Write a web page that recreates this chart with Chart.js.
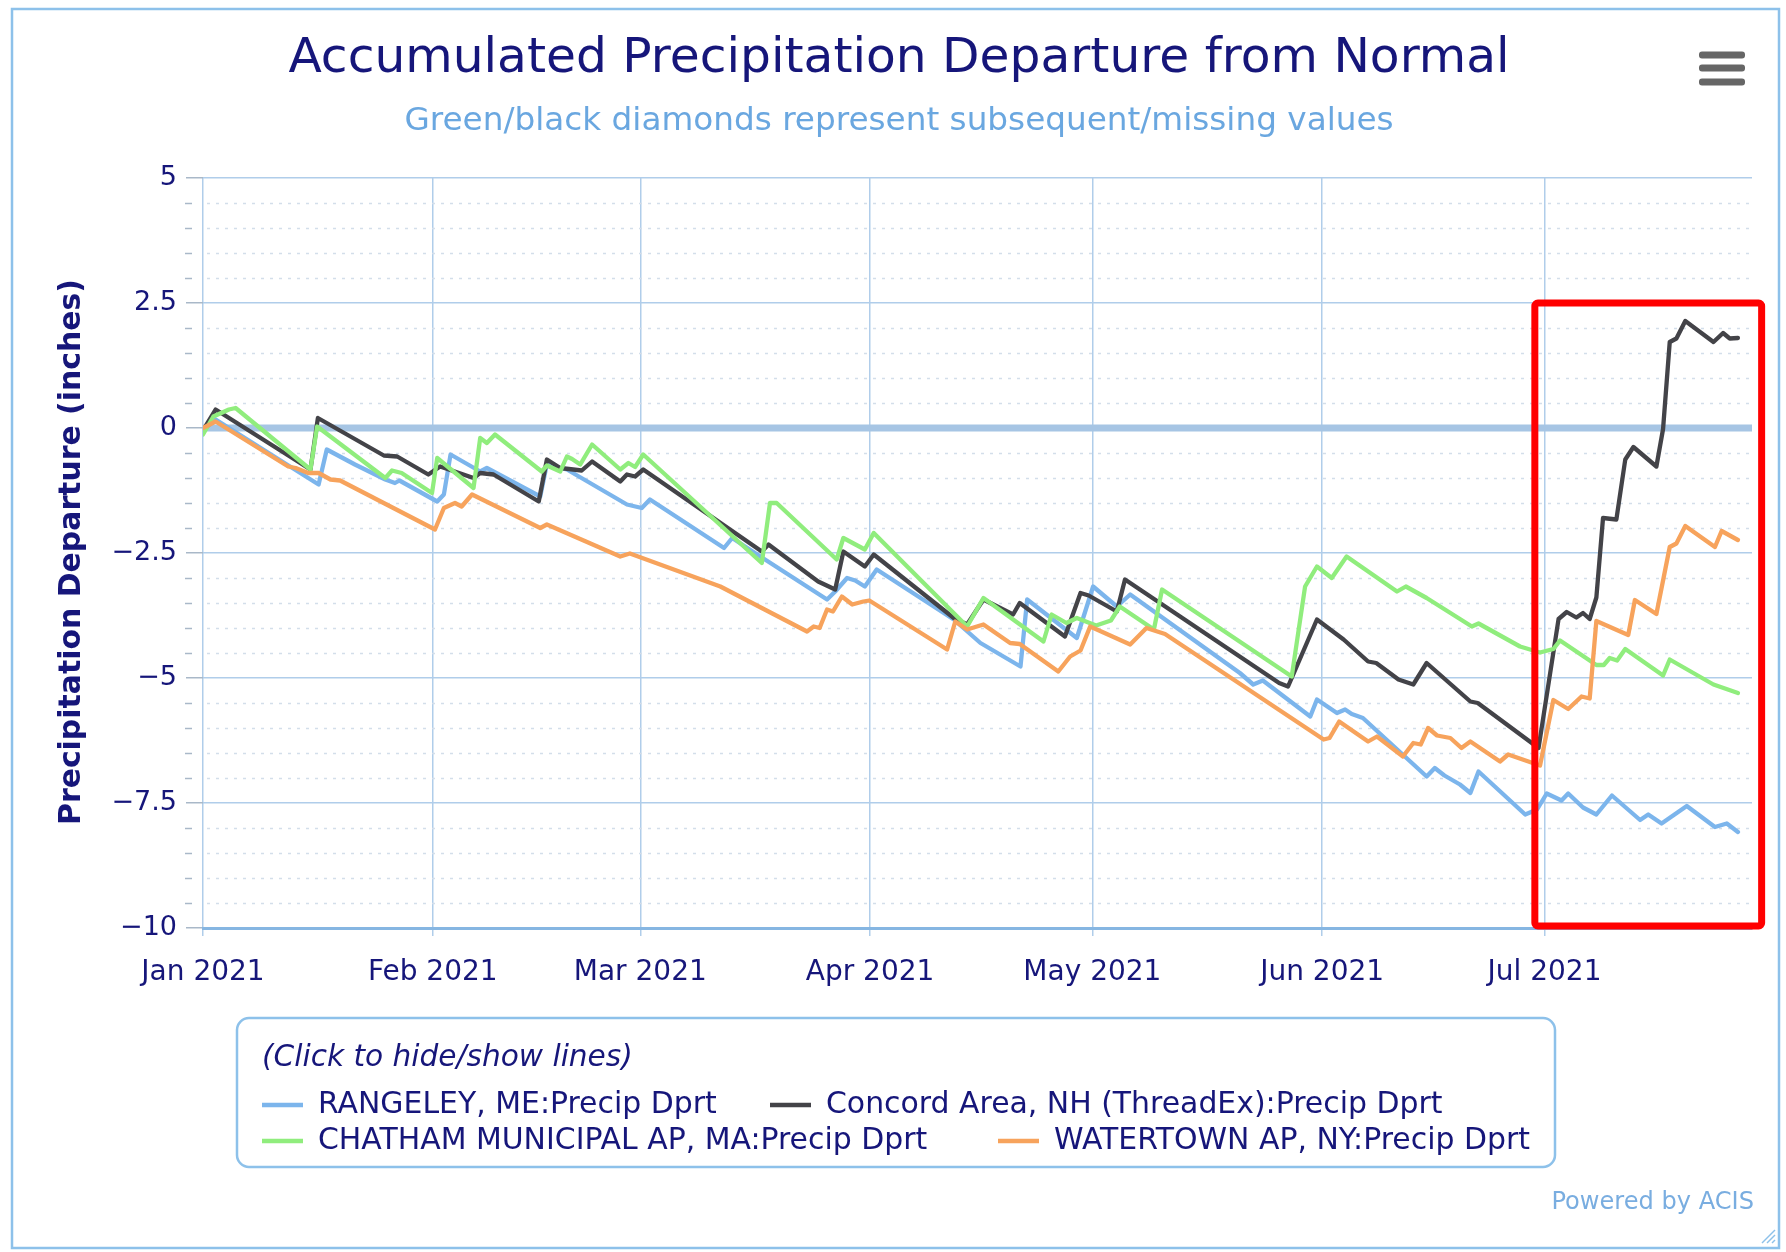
<!DOCTYPE html>
<html>
<head>
<meta charset="utf-8">
<title>Accumulated Precipitation Departure from Normal</title>
<script src="https://cdn.jsdelivr.net/npm/chart.js@4.4.1/dist/chart.umd.min.js"></script>
<style>
  html, body { margin: 0; padding: 0; background: #ffffff; }
  canvas { display: block; }
</style>
</head>
<body>
<canvas id="myChart" width="1786" height="1252"></canvas>
<script>
// x values are days since Jan 1 2021
const monthDays = [0, 31, 59, 90, 120, 151, 181];
const monthLabels = ['Jan 2021', 'Feb 2021', 'Mar 2021', 'Apr 2021', 'May 2021', 'Jun 2021', 'Jul 2021'];
const lastDay = 209;

const seriesLabels = [
    'RANGELEY, ME:Precip Dprt',
    'Concord Area, NH (ThreadEx):Precip Dprt',
    'CHATHAM MUNICIPAL AP, MA:Precip Dprt',
    'WATERTOWN AP, NY:Precip Dprt'
];
const seriesColors = ['#7cb5ec', '#434348', '#90ed7d', '#f7a35c'];

const rangeleyDays = [0, 1.7, 14.2, 15.6, 16.7, 20.5, 24.6, 25.9, 26.5, 31.6, 32.5, 33.4, 37.4, 38.3, 45.5, 46.4, 48.2, 49.1, 57.2, 59.2,
    60.3, 70.3, 71.4, 75.2, 84.2, 85.3, 86.9, 88, 89.3, 90.9, 101.3, 104.9, 110.3, 111.2, 117.9, 120.1, 123.3, 125.1, 139.9, 141.7,
    143, 149.4, 150.3, 153, 154.1, 155, 156.5, 165.1, 166.2, 167.5, 169.6, 171, 172.1, 178.4, 180, 181.3, 183.3, 184.2, 186.2, 188,
    190.1, 193.9, 195, 196.8, 200.2, 204, 205.6, 207.1];
const rangeleyDprt = [-0.05, 0.17, -1.0, -1.13, -0.43, -0.73, -1.03, -1.1, -1.05, -1.47, -1.33, -0.53, -0.87, -0.8, -1.37, -0.72, -0.8, -0.83, -1.53, -1.6,
    -1.43, -2.4, -2.2, -2.57, -3.43, -3.27, -3.0, -3.05, -3.17, -2.83, -3.83, -4.3, -4.77, -3.43, -4.2, -3.17, -3.57, -3.33, -4.9, -5.13,
    -5.05, -5.77, -5.43, -5.7, -5.63, -5.72, -5.8, -6.97, -6.8, -6.95, -7.13, -7.3, -6.87, -7.73, -7.63, -7.31, -7.45, -7.31, -7.59, -7.73,
    -7.35, -7.84, -7.73, -7.91, -7.56, -7.98, -7.91, -8.08];

const concordDays = [0, 1.7, 14.5, 15.5, 24.4, 26.2, 30.4, 32, 36.5, 37.4, 39.2, 45.3, 46.4, 48.2, 51.1, 52.5, 56.3, 57.2, 58.3, 59.4,
    75.4, 76.3, 83, 85.3, 86.4, 89.3, 90.5, 101.3, 103.1, 105.3, 109.3, 110.2, 116.3, 118.4, 119.5, 123.3, 124.4, 145.2, 146.4, 150.3,
    153.9, 157.2, 158.3, 161.3, 163.3, 165.1, 171, 172, 180.2, 182.9, 184, 185.3, 186.2, 187.1, 188, 188.9, 190.7, 191.9, 193, 196.1,
    197, 197.9, 198.8, 200, 203.8, 205.1, 206, 207.1];
const concordDprt = [-0.05, 0.37, -0.83, 0.2, -0.55, -0.57, -0.93, -0.77, -1.0, -0.9, -0.93, -1.47, -0.63, -0.8, -0.85, -0.67, -1.07, -0.93, -0.97, -0.83,
    -2.47, -2.33, -3.07, -3.23, -2.47, -2.77, -2.53, -3.8, -3.93, -3.43, -3.73, -3.5, -4.17, -3.3, -3.35, -3.67, -3.03, -5.1, -5.17, -3.83,
    -4.23, -4.67, -4.7, -5.03, -5.13, -4.7, -5.47, -5.5, -6.4, -3.82, -3.68, -3.79, -3.7, -3.82, -3.39, -1.8, -1.83, -0.63, -0.38, -0.77,
    -0.02, 1.72, 1.79, 2.14, 1.72, 1.9, 1.79, 1.8];

const chathamDays = [0, 1.4, 3.5, 4.4, 14.5, 15.4, 24.6, 25.5, 26.8, 30.9, 31.6, 36.5, 37.4, 38.3, 39.4, 45.7, 46.4, 48.2, 49.1, 49.8,
    50.9, 52.5, 56.3, 57.4, 58.3, 59.4, 75.4, 76.5, 77.4, 85.5, 86.4, 89.3, 90.5, 103.1, 105.3, 113.4, 114.5, 116.5, 117.9, 120.5,
    122.5, 123.7, 128.3, 129.4, 146.9, 148.7, 150.3, 152.3, 154.3, 161.1, 162.3, 165.1, 171.2, 172.1, 177.7, 180.4, 182.2, 183.1, 188, 189,
    189.8, 190.8, 191.9, 197, 197.9, 203.8, 207.1];
const chathamDprt = [-0.13, 0.23, 0.37, 0.4, -0.83, 0.03, -1.0, -0.85, -0.9, -1.3, -0.6, -1.2, -0.2, -0.3, -0.13, -0.87, -0.75, -0.87, -0.57, -0.62,
    -0.73, -0.33, -0.83, -0.7, -0.78, -0.53, -2.7, -1.5, -1.5, -2.63, -2.2, -2.43, -2.1, -3.97, -3.4, -4.27, -3.73, -3.9, -3.8, -3.95,
    -3.85, -3.57, -4.03, -3.23, -4.97, -3.17, -2.77, -3.0, -2.57, -3.27, -3.17, -3.4, -3.97, -3.91, -4.37, -4.49, -4.42, -4.25, -4.74, -4.74,
    -4.6, -4.65, -4.42, -4.95, -4.63, -5.13, -5.3];

const watertownDays = [0, 1.7, 11.5, 12.5, 14.2, 15.6, 17.2, 18.5, 31.3, 32.5, 34, 34.9, 36.3, 45.5, 46.4, 56.3, 57.6, 69.8, 81.5, 82.4,
    83.2, 84.2, 85, 86.2, 87.6, 89.1, 89.9, 100.4, 101.5, 103.1, 105.3, 108.9, 110.2, 115.4, 117, 118.4, 119.7, 125.1, 127.3, 129.8,
    151.2, 152, 153.3, 157.2, 158.4, 161.9, 163.3, 164.3, 165.3, 166.5, 168.3, 169.8, 171, 175, 176.1, 180.4, 182.2, 184.2, 186, 187.1,
    188, 192.3, 193.2, 196.1, 197.9, 198.8, 200, 204, 204.9, 207.1];
const watertownDprt = [0, 0.13, -0.77, -0.8, -0.9, -0.9, -1.03, -1.05, -2.03, -1.6, -1.5, -1.57, -1.33, -2.0, -1.93, -2.57, -2.51, -3.17, -4.07, -3.97,
    -4.0, -3.63, -3.67, -3.37, -3.53, -3.47, -3.45, -4.43, -3.87, -4.03, -3.93, -4.3, -4.32, -4.87, -4.57, -4.45, -3.97, -4.33, -4.0, -4.12,
    -6.23, -6.2, -5.87, -6.27, -6.17, -6.57, -6.3, -6.33, -6.0, -6.15, -6.2, -6.4, -6.27, -6.67, -6.53, -6.75, -5.44, -5.62, -5.37, -5.41,
    -3.86, -4.14, -3.44, -3.72, -2.38, -2.31, -1.96, -2.38, -2.06, -2.24];

const yMin = -10, yMax = 5, yMajorStep = 2.5, yMinorStep = 0.5;

// red highlight box, in data units
const highlightBox = { x0: 179.7, x1: 210.3, y0: 2.5, y1: -9.96 };

const FONT = '"DejaVu Sans", Verdana, sans-serif';
const NAVY = '#16167a';

function fitFont(ctx, text, style, width) {
    ctx.font = style + ' 100px ' + FONT;
    const size = 100 * width / ctx.measureText(text).width;
    return style + ' ' + size.toFixed(1) + 'px ' + FONT;
}

function makeSeries(days, vals) {
    return days.map((d, i) => ({ x: d, y: vals[i] }));
}

function minusFmt(v) {
    return v < 0 ? '\u2212' + Math.abs(v) : String(v);
}

const decor = {
    id: 'decor',
    beforeDraw(chart) {
        const ctx = chart.ctx;
        ctx.save();
        ctx.fillStyle = '#ffffff';
        ctx.fillRect(0, 0, chart.width, chart.height);
        ctx.strokeStyle = '#8dc1ea';
        ctx.lineWidth = 2.5;
        ctx.strokeRect(12, 9, 1767, 1239);
        ctx.restore();
    },
    beforeDatasetsDraw(chart) {
        const ctx = chart.ctx;
        const area = chart.chartArea;
        const y = chart.scales.y;
        ctx.save();
        // minor dotted grid and small ticks
        for (let v = yMin + yMinorStep; v < yMax; v += yMinorStep) {
            const r = Math.round(v * 10) / 10;
            if (Math.abs(r / yMajorStep - Math.round(r / yMajorStep)) < 1e-6) continue;
            const py = Math.round(y.getPixelForValue(r)) + 0.5;
            ctx.strokeStyle = '#d3deea';
            ctx.lineWidth = 1.5;
            ctx.setLineDash([3, 6]);
            ctx.beginPath();
            ctx.moveTo(area.left + 4, py);
            ctx.lineTo(area.right, py);
            ctx.stroke();
            ctx.setLineDash([]);
            ctx.strokeStyle = '#a9b8c8';
            ctx.beginPath();
            ctx.moveTo(area.left - 18, py);
            ctx.lineTo(area.left - 11, py);
            ctx.stroke();
        }
        // zero plot line
        const zy = y.getPixelForValue(0);
        ctx.strokeStyle = '#a6c5e4';
        ctx.lineWidth = 7;
        ctx.beginPath();
        ctx.moveTo(area.left, zy);
        ctx.lineTo(area.right, zy);
        ctx.stroke();
        ctx.restore();
    },
    afterDraw(chart) {
        const ctx = chart.ctx;
        const xs = chart.scales.x, ys = chart.scales.y;
        ctx.save();

        // title + subtitle
        ctx.textAlign = 'center';
        ctx.textBaseline = 'middle';
        ctx.fillStyle = NAVY;
        const title = 'Accumulated Precipitation Departure from Normal';
        ctx.font = fitFont(ctx, title, 'normal', 1222);
        ctx.fillText(title, 899, 59);
        const sub = 'Green/black diamonds represent subsequent/missing values';
        ctx.fillStyle = '#6aa7e0';
        ctx.font = fitFont(ctx, sub, 'normal', 991);
        ctx.fillText(sub, 899, 122);

        // menu icon
        ctx.fillStyle = '#666666';
        [55, 68, 82].forEach(by => {
            ctx.beginPath();
            ctx.roundRect(1699, by - 3.5, 46, 7, 3);
            ctx.fill();
        });

        // y axis title
        ctx.save();
        ctx.translate(72, 552);
        ctx.rotate(-Math.PI / 2);
        ctx.fillStyle = NAVY;
        const ytitle = 'Precipitation Departure (inches)';
        ctx.font = fitFont(ctx, ytitle, 'bold', 547);
        ctx.fillText(ytitle, 0, 0);
        ctx.restore();

        // legend box
        ctx.strokeStyle = '#8dc1ea';
        ctx.lineWidth = 2.5;
        ctx.beginPath();
        ctx.roundRect(237, 1018, 1318, 149, 12);
        ctx.stroke();
        ctx.textAlign = 'left';
        ctx.fillStyle = NAVY;
        const hint = '(Click to hide/show lines)';
        ctx.font = fitFont(ctx, hint, 'italic', 371);
        ctx.fillText(hint, 262, 1058);

        const slots = [[262, 1105], [770, 1105], [262, 1141], [998, 1141]];
        ctx.font = fitFont(ctx, seriesLabels[1], 'normal', 616);
        chart.data.datasets.forEach((ds, i) => {
            const [sx, sy] = slots[i];
            ctx.strokeStyle = ds.borderColor;
            ctx.lineWidth = 4.5;
            ctx.beginPath();
            ctx.moveTo(sx, sy);
            ctx.lineTo(sx + 41, sy);
            ctx.stroke();
            ctx.fillStyle = NAVY;
            ctx.fillText(ds.label, sx + 56, sy);
        });

        // credits
        ctx.textAlign = 'right';
        ctx.fillStyle = '#79ade0';
        const cred = 'Powered by ACIS';
        ctx.font = fitFont(ctx, cred, 'normal', 203);
        ctx.fillText(cred, 1754, 1203);

        // resize grip
        ctx.strokeStyle = '#8dc1ea';
        ctx.lineWidth = 1.5;
        for (let k = 0; k < 3; k++) {
            ctx.beginPath();
            ctx.moveTo(1762 + k * 5, 1243);
            ctx.lineTo(1775, 1230 + k * 5);
            ctx.stroke();
        }

        // red highlight
        const bx0 = xs.getPixelForValue(highlightBox.x0), bx1 = xs.getPixelForValue(highlightBox.x1);
        const by0 = ys.getPixelForValue(highlightBox.y0), by1 = ys.getPixelForValue(highlightBox.y1);
        ctx.strokeStyle = '#ff0000';
        ctx.lineWidth = 7;
        ctx.beginPath();
        ctx.roundRect(bx0, by0, bx1 - bx0, by1 - by0, 3);
        ctx.stroke();
        ctx.restore();
    }
};

const ctx = document.getElementById('myChart').getContext('2d');
const allDays = [rangeleyDays, concordDays, chathamDays, watertownDays];
const allVals = [rangeleyDprt, concordDprt, chathamDprt, watertownDprt];

const myChart = new Chart(ctx, {
    type: 'line',
    data: {
        datasets: seriesLabels.map((label, i) => ({
            label: label,
            data: makeSeries(allDays[i], allVals[i]),
            borderColor: seriesColors[i],
            backgroundColor: seriesColors[i],
            borderWidth: 4.3,
            borderJoinStyle: 'round',
            borderCapStyle: 'round',
            pointRadius: 0,
            tension: 0,
            fill: false,
            order: 3 - i
        }))
    },
    options: {
        responsive: false,
        animation: false,
        devicePixelRatio: 1,
        layout: { padding: { left: 0, right: 34, top: 178, bottom: 264 } },
        plugins: {
            legend: { display: false },
            tooltip: { enabled: false },
            title: { display: false }
        },
        scales: {
            x: {
                type: 'linear',
                min: 0,
                max: lastDay,
                afterFit: s => { s.height = 60; },
                afterBuildTicks: s => { s.ticks = monthDays.map(v => ({ value: v })); },
                ticks: {
                    callback: v => monthLabels[monthDays.indexOf(v)],
                    autoSkip: false,
                    maxRotation: 0,
                    padding: 20,
                    color: NAVY,
                    font: { family: FONT, size: 28 }
                },
                grid: { color: '#b0cdea', lineWidth: 1.5, tickLength: 8 },
                border: { display: true, color: '#86b6e2', width: 3 }
            },
            y: {
                min: yMin,
                max: yMax,
                afterFit: s => { s.width = 203; },
                ticks: {
                    stepSize: yMajorStep,
                    callback: v => minusFmt(v),
                    padding: 9,
                    color: NAVY,
                    font: { family: FONT, size: 27 }
                },
                grid: { color: '#b0cdea', lineWidth: 1.5, tickLength: 17, tickColor: '#a9b8c8' },
                border: { display: false }
            }
        }
    },
    plugins: [decor]
});
</script>
</body>
</html>
